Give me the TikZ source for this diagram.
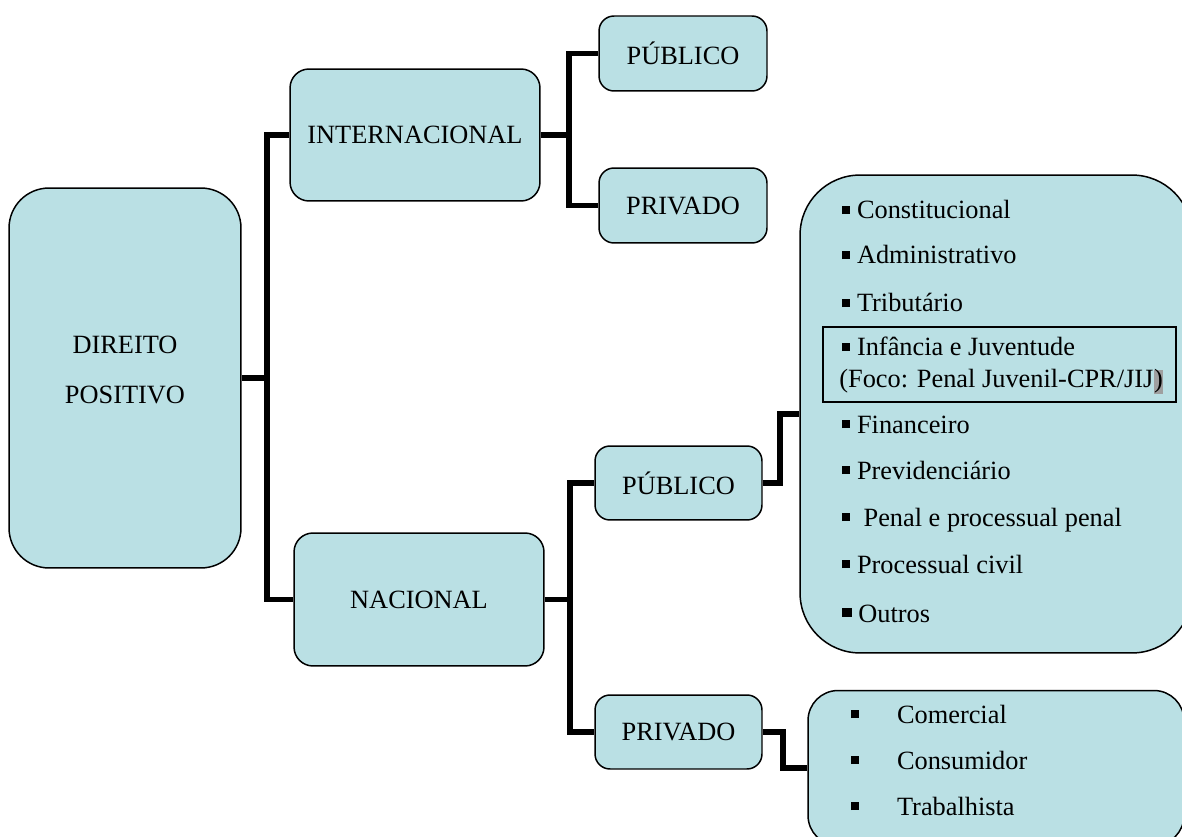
\documentclass[tikz,border=0pt]{standalone}
\usepackage{fontspec}
\setmainfont{Liberation Serif}
\usetikzlibrary{backgrounds}
\definecolor{boxfill}{RGB}{186,224,228}
\newcommand{\sqb}{\rule[2.8pt]{4.6pt}{4.6pt}}
\begin{document}
\begin{tikzpicture}[x=0.02cm,y=-0.02cm,
  box/.style={draw=black, line width=0.85pt, fill=boxfill, rounded corners=#1, inner sep=0pt,
              font=\fontsize{15}{17}\selectfont},
  box/.default=0.34cm,
  conn/.style={line width=3.3pt, line join=miter},
  item/.style={anchor=base west, inner sep=0pt, font=\fontsize{15}{17}\selectfont}]
\useasboundingbox (0,0) rectangle (1182,837);

% main boxes
\node[box=0.8cm, minimum width=4.64cm, minimum height=7.6cm] (dp) at (125,378) {};
\node[align=center, inner sep=0pt, font=\fontsize{15}{28.5}\selectfont] (dpt) at (125,370) {DIREITO\\POSITIVO};
\node[box=0.38cm, minimum width=5cm, minimum height=2.64cm] (int) at (415,135) {INTERNACIONAL};
\node[box=0.3cm, minimum width=3.36cm, minimum height=1.5cm] (pubA) at (683,53.5) {PÚBLICO};
\node[box=0.3cm, minimum width=3.36cm, minimum height=1.5cm] (privA) at (683,205.5) {PRIVADO};
\node[box=0.38cm, minimum width=5cm, minimum height=2.66cm] (nac) at (419,599.5) {NACIONAL};
\node[box=0.3cm, minimum width=3.34cm, minimum height=1.48cm] (pubB) at (678.5,483) {PÚBLICO};
\node[box=0.3cm, minimum width=3.34cm, minimum height=1.48cm] (privB) at (678.5,732) {PRIVADO};
\node[box=1.2cm, minimum width=7.84cm, minimum height=9.56cm] (big) at (996,414) {};
\node[box=0.6cm, minimum width=7.52cm, minimum height=3.1cm] (bot) at (996,768) {};

% highlighted item frame
\node[draw=black, line width=0.85pt, inner sep=0pt, minimum width=7.06cm, minimum height=1.5cm] (ij) at (999.5,364.5) {};

% public list
\node[item] (i1) at (842,219) {\sqb\ Constitucional};
\node[item] (i2) at (842,264) {\sqb\ Administrativo};
\node[item] (i3) at (842,312) {\sqb\ Tributário};
\node[item] (i4) at (842,356) {\sqb\ Infância e Juventude};
\node[item] (i5) at (839,388) {(Foco: Penal Juvenil-CPR/JIJ};
\node[item, fill=gray!75] (i5p) at (i5.base east) {)};
\node[item] (i6) at (842,433) {\sqb\ Financeiro};
\node[item] (i7) at (842,479) {\sqb\ Previdenciário};
\node[item] (i8) at (842,526) {\sqb\ \ Penal e processual penal};
\node[item] (i9) at (842,573) {\sqb\ Processual civil};
\node[item] (i10) at (842,622) {\rule[2.8pt]{5.4pt}{5.4pt}\ Outros};

% private list
\node[item] (p1) at (851,723) {\sqb\hspace{21.4pt}Comercial};
\node[item] (p2) at (851,769) {\sqb\hspace{21.4pt}Consumidor};
\node[item] (p3) at (851,815) {\sqb\hspace{21.4pt}Trabalhista};

% connectors
\coordinate (j1) at (267,378);
\coordinate (j2) at (569,135);
\coordinate (j3) at (570,599.5);
\coordinate (j4) at (780,450);
\coordinate (j5) at (783,750);
\begin{scope}[on background layer]
\draw[conn] (int.west) -| (j1) |- (nac.west);
\draw[conn] (dp.east) -- (j1);
\draw[conn] (pubA.west) -| (j2) |- (privA.west);
\draw[conn] (int.east) -- (j2);
\draw[conn] (pubB.west) -| (j3) |- (privB.west);
\draw[conn] (nac.east) -- (j3);
\draw[conn] (pubB.east) -| (j4) |- (big.west);
\draw[conn] (privB.east) -| (j5) |- (bot.west);
\end{scope}
\end{tikzpicture}
\end{document}
